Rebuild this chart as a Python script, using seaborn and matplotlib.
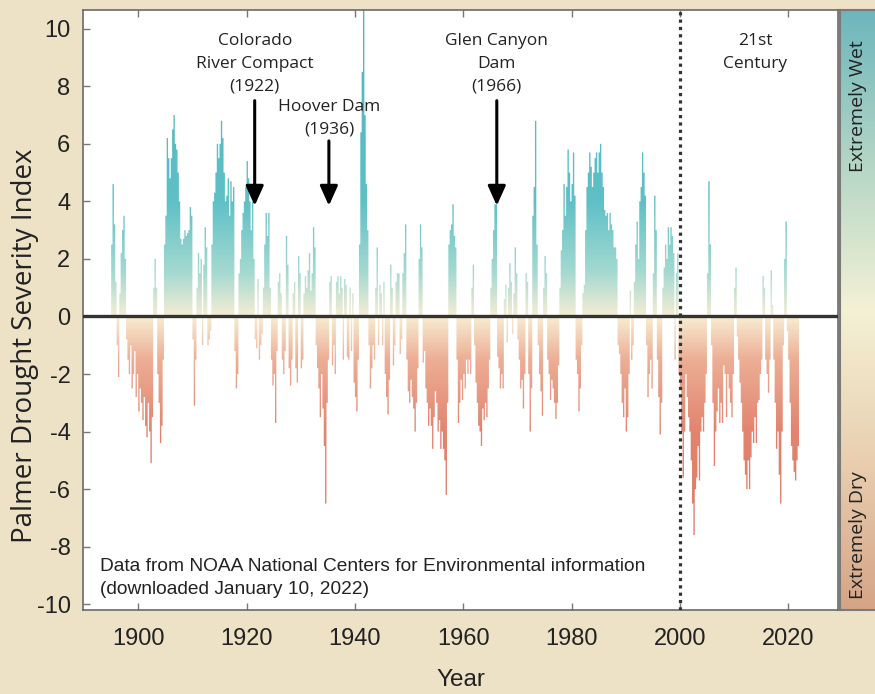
import numpy as np
import pandas as pd
import seaborn as sns
import matplotlib.pyplot as plt
from matplotlib.colors import LinearSegmentedColormap, Normalize
from matplotlib.path import Path

# quarterly PDSI values (4 per year, starting 1895)
start_year = 1895
pdsi_1895_1909 = [2.5, 4.6, 3.2, 1.2,  -1.0, -2.1, 0.8, 2.2,  3.0, 3.5, 2.0, -0.8,
                  -1.5, -2.0, -1.0, -2.5,  -2.0, -1.2, -2.8, -2.0,
                  -3.3, -2.5, -3.0, -3.6,  -2.8, -3.8, -4.2, -3.0,  -4.0, -5.1, -3.5, 1.0,
                  2.0, 1.0, -2.0, -3.0,  -4.4, -3.8, -1.5, 2.5,  3.5, 6.2, 5.5, 4.8,
                  5.5, 6.5, 7.0, 6.0,  5.8, 5.0, 4.0, 2.7,  2.5, 2.7, 3.0, 2.8,
                  2.9, 3.0, 3.8, 3.5]
pdsi_1910_1929 = [-0.8, -3.1, -1.5, 1.0,  2.2, 1.5, 2.0, -1.0,  1.8, 3.1, 2.4, -1.0,
                  -0.8, -0.5, 2.5, 4.0,  4.3, 5.0, 6.0, 5.5,  6.0, 6.8, 6.2, 5.0,
                  4.0, 4.2, 4.8, 3.5,  4.7, 4.0, 4.5, -1.2,  -2.5, -2.0, 1.5, 2.0,
                  3.0, 3.6, 4.0, 4.5,  5.4, 4.8, 4.0, 3.0,  4.0, 2.0, -0.8, -1.1,
                  1.3, -1.5, -1.0, -0.6,  1.0, 2.5, 3.6, 2.8,  3.6, 1.0, -1.5, -2.4,
                  -2.0, -3.7, -1.2, 1.2,  1.5, 0.8, -1.5, -2.0,  -1.2, 2.8, 1.8, -1.8,
                  -2.4, -1.5, 0.8, 1.2,  -1.8, -2.3, 2.1, 1.5]
pdsi_1930_1949 = [-1.8, -1.5, 0.8, 1.4,  1.0, 1.6, 2.2, 0.9,  1.5, 3.1, 2.4, -1.0,
                  -1.8, -2.5, -3.5, -2.0,  -3.2, -4.5, -6.5, -3.0,  -1.5, 1.2, 1.4, -1.7,
                  -1.0, -2.0, 1.2, 1.4,  0.8, 1.4, 1.0, -1.5,  1.3, 1.1, -1.4, -1.5,
                  1.0, -1.2, 0.8, -2.3,  -2.8, -3.3, -1.5, 2.5,  6.4, 8.5, 10.8, 7.0,
                  4.6, 3.0, -1.0, -2.5,  -1.8, -1.0, -1.5, 1.0,  2.4, -1.0, 1.1, 0.8,
                  -1.0, 1.2, -2.0, -2.8,  -3.4, -2.2, 1.8, 1.0,  -1.7, -1.0, 1.2, 1.5,
                  1.5, -1.3, -0.8, 1.5,  2.2, 3.2, -1.5, -2.6]
pdsi_1950_1969 = [-3.0, -2.2, -2.8, -3.2,  -4.0, -3.0, -1.8, 2.0,  3.2, 2.4, -1.6, -1.2,
                  -2.5, -3.0, -3.8, -3.2,  -3.8, -4.6, -3.5, -2.6,  -3.0, -4.0, -3.6, -4.6,
                  -4.0, -4.6, -5.0, -6.2,  -3.0, 2.5, 3.0, 3.2,  3.9, 2.8, 2.4, -1.5,
                  -3.7, -3.0, -2.2, -2.9,  -2.0, -2.5, -1.5, -2.0,  -1.5, -2.0, 1.0, 1.8,
                  -1.0, -2.3, -3.0, -3.8,  -4.0, -4.5, -3.2, -3.6,  -3.0, -3.5, -2.5, -1.5,
                  1.0, 2.0, 3.0, 3.9,  3.9, -1.4, -1.8, -2.5,  -2.0, -2.5, 0.6, 1.1,
                  -0.9, 1.0, 1.85, 1.2,  -0.6, 0.8, 2.4, 1.5]
pdsi_1970_1989 = [-0.8, -1.5, -2.5, -2.2,  -3.2, -2.0, 1.5, 1.2,  -2.0, -4.0, -2.5, 3.5,
                  4.5, 6.8, 2.5, -1.0,  -2.0, -2.6, -3.45, 1.0,  2.1, 1.5, -1.5, -2.0,
                  -2.9, -2.2, -2.5, -3.0,  -3.56, -3.0, -1.7, 1.0,  2.3, 3.0, 4.6, 3.5,
                  4.5, 5.8, 5.0, 4.0,  4.6, 5.7, 4.2, -1.5,  -2.0, -3.3, -2.5, -1.0,
                  0.8, 1.1, 3.0, 4.5,  5.0, 5.7, 5.2, 4.5,  5.0, 5.5, 5.7, 5.0,
                  5.7, 6.0, 5.0, 4.5,  3.7, 3.5, 3.6, 3.0,  3.6, 3.2, 3.0, 2.4,
                  2.4, 2.0, -1.0, -1.3,  -2.0, -3.0, -3.5, -2.5]
pdsi_1990_2009 = [-4.0, -3.5, -2.0, 0.9,  -1.5, -1.0, 1.2, 2.5,  3.3, 2.0, 4.0, 4.5,
                  5.7, 5.0, 4.2, -1.0,  -2.8, -2.0, -1.5, -2.5,  1.5, 4.2, 3.0, -1.5,
                  -2.8, -4.1, -3.0, 1.0,  1.7, 2.5, 2.0, 3.1,  2.5, 3.1, 2.8, 2.2,
                  -1.5, 1.5, 2.2, -2.0,  -2.5, -4.0, -5.6, -4.0,  -2.0, -2.8, -3.5, -4.0,
                  -5.0, -6.5, -7.6, -6.0,  -5.6, -4.5, -5.7, -4.0,  -3.5, -4.0, -3.0, -2.0,
                  1.5, 4.7, 2.5, -1.0,  -3.0, -5.2, -4.0, -3.3,  -2.5, -3.7, -3.0, -3.7,
                  -1.7, -2.0, -3.5, -2.0,  -2.5, -3.0, -3.5, -2.0]
pdsi_2010_2021 = [1.0, 1.7, -0.7, -1.5,  -2.3, -3.0, -4.0, -5.0,  -5.5, -6.0, -5.0, -6.0,
                  -4.9, -4.0, -4.4, -3.5,  -4.4, -3.0, -2.9, -2.0,  -1.5, 1.4, 1.0, -1.5,
                  -2.0, -2.65, -1.5, 1.6,  0.4, -1.5, -3.0, -4.6,  -4.0, -5.5, -6.5, -4.0,
                  -1.0, 2.0, 3.3, -0.5,  -1.5, -3.0, -4.5, -5.0,  -5.4, -5.7, -5.0, -4.5]

x_ticks = [1900, 1920, 1940, 1960, 1980, 2000, 2020]
y_ticks = [-10, -8, -6, -4, -2, 0, 2, 4, 6, 8, 10]

events = [('Colorado\nRiver Compact\n(1922)', 1921.5, 9.85, 7.5),
          ('Hoover Dam\n(1936)', 1935.2, 7.55, 6.1),
          ('Glen Canyon\nDam\n(1966)', 1966.2, 9.85, 7.5)]

vals = (pdsi_1895_1909 + pdsi_1910_1929 + pdsi_1930_1949 + pdsi_1950_1969
        + pdsi_1970_1989 + pdsi_1990_2009 + pdsi_2010_2021)
t = start_year + 0.125 + 0.25 * np.arange(len(vals))
df = pd.DataFrame({'year': t, 'pdsi': vals})

sns.set_style('ticks')
plt.rcParams['font.family'] = ['Liberation Sans', 'DejaVu Sans']
plt.rcParams['axes.unicode_minus'] = False

fig = plt.figure(figsize=(8.75, 6.94), dpi=100)
fig.patch.set_facecolor('#EDE2C6')
ax = fig.add_axes([83/875, 84/694, 755/875, 600/694])

sns.barplot(data=df, x='year', y='pdsi', native_scale=True, width=1.0,
            errorbar=None, color='#888888', linewidth=0, ax=ax)
paths = [p.get_path().transformed(p.get_patch_transform()) for p in ax.patches]
for p in ax.patches:
    p.set_visible(False)
clip = Path.make_compound_path(*paths)

xmin, xmax = 1889.8, 2029.2
ymin, ymax = -10.2, 10.65
vmax = 10.65
stops = [(-vmax, '#DB745E'), (-4.0, '#E2846F'), (-1.5, '#EDAE95'), (0, '#F7EDD3'),
         (1.5, '#A6DAD1'), (4.0, '#5FC0C7'), (vmax, '#4CB5BF')]
cmap = LinearSegmentedColormap.from_list(
    'pdsi', [((v + vmax) / (2 * vmax), c) for v, c in stops])
grad = np.linspace(ymin, ymax, 900).reshape(-1, 1)
im = ax.imshow(grad, extent=[xmin, xmax, ymin, ymax], origin='lower', aspect='auto',
               cmap=cmap, norm=Normalize(-vmax, vmax), interpolation='bilinear', zorder=1)
im.set_clip_path(clip, transform=ax.transData)

ax.set_xlim(xmin, xmax)
ax.set_ylim(ymin, ymax)
ax.axhline(0, color='#333333', lw=2.4, zorder=3)
ax.axvline(2000, color='#333333', lw=2.3, ls=(0, (1, 1.3)), zorder=3)

ax.set_xticks(x_ticks, labels=[str(v) for v in x_ticks])
ax.set_yticks(y_ticks, labels=[str(v) for v in y_ticks])
ax.tick_params(direction='in', length=5, width=1, color='#777777', labelsize=17,
               top=True, right=False, labelcolor='#222222')
ax.tick_params(axis='x', pad=13)
ax.tick_params(axis='y', pad=9)
for s in ax.spines.values():
    s.set_color('#6a6a6a')
    s.set_linewidth(1.2)
ax.set_xlabel('Year', fontsize=17.5, labelpad=14, color='#222222')
ax.set_ylabel('Palmer Drought Severity Index', fontsize=20, family='Open Sans',
              color='#222222')
ax.yaxis.set_label_coords(-0.058, 0.44)

for label, xe, ytxt, ystart in events:
    ax.text(xe, ytxt, label, ha='center', va='top', fontsize=12.5, family='Open Sans',
            color='#222222', linespacing=1.55, zorder=4)
    ax.annotate('', xy=(xe, 3.85), xytext=(xe, ystart),
                arrowprops=dict(arrowstyle='-|>,head_length=0.6,head_width=0.27',
                                color='black', lw=2.2, mutation_scale=20,
                                shrinkA=0, shrinkB=0), zorder=4)
ax.text(2013.9, 9.85, '21st\nCentury', ha='center', va='top', fontsize=12.5,
        family='Open Sans', color='#222222', linespacing=1.55)
ax.text(1892.9, -9.1, 'Data from NOAA National Centers for Environmental information\n'
        '(downloaded January 10, 2022)', ha='left', va='center', fontsize=13.75,
        color='#222222', linespacing=1.45)

# colour strip on the right
cax = fig.add_axes([840/875, 84/694, 60/875, 600/694])
strip = LinearSegmentedColormap.from_list(
    'strip', ['#D5A487', '#E9CFB0', '#F4F1D5', '#B3D5C5', '#6DB6BC'])
cax.imshow(np.linspace(0, 1, 400).reshape(-1, 1), extent=[0, 1, 0, 1], origin='lower',
           aspect='auto', cmap=strip)
cax.set_xticks([])
cax.set_yticks([])
for s in cax.spines.values():
    s.set_color('#7a7a7a')
    s.set_linewidth(1.5)
cax.text(0.3, 0.84, 'Extremely Wet', rotation=90, ha='center', va='center',
         fontsize=14, family='Open Sans', color='#222222', transform=cax.transAxes)
cax.text(0.3, 0.125, 'Extremely Dry', rotation=90, ha='center', va='center',
         fontsize=14, family='Open Sans', color='#222222', transform=cax.transAxes)

fig.savefig('out.png', dpi=100, facecolor=fig.get_facecolor())
